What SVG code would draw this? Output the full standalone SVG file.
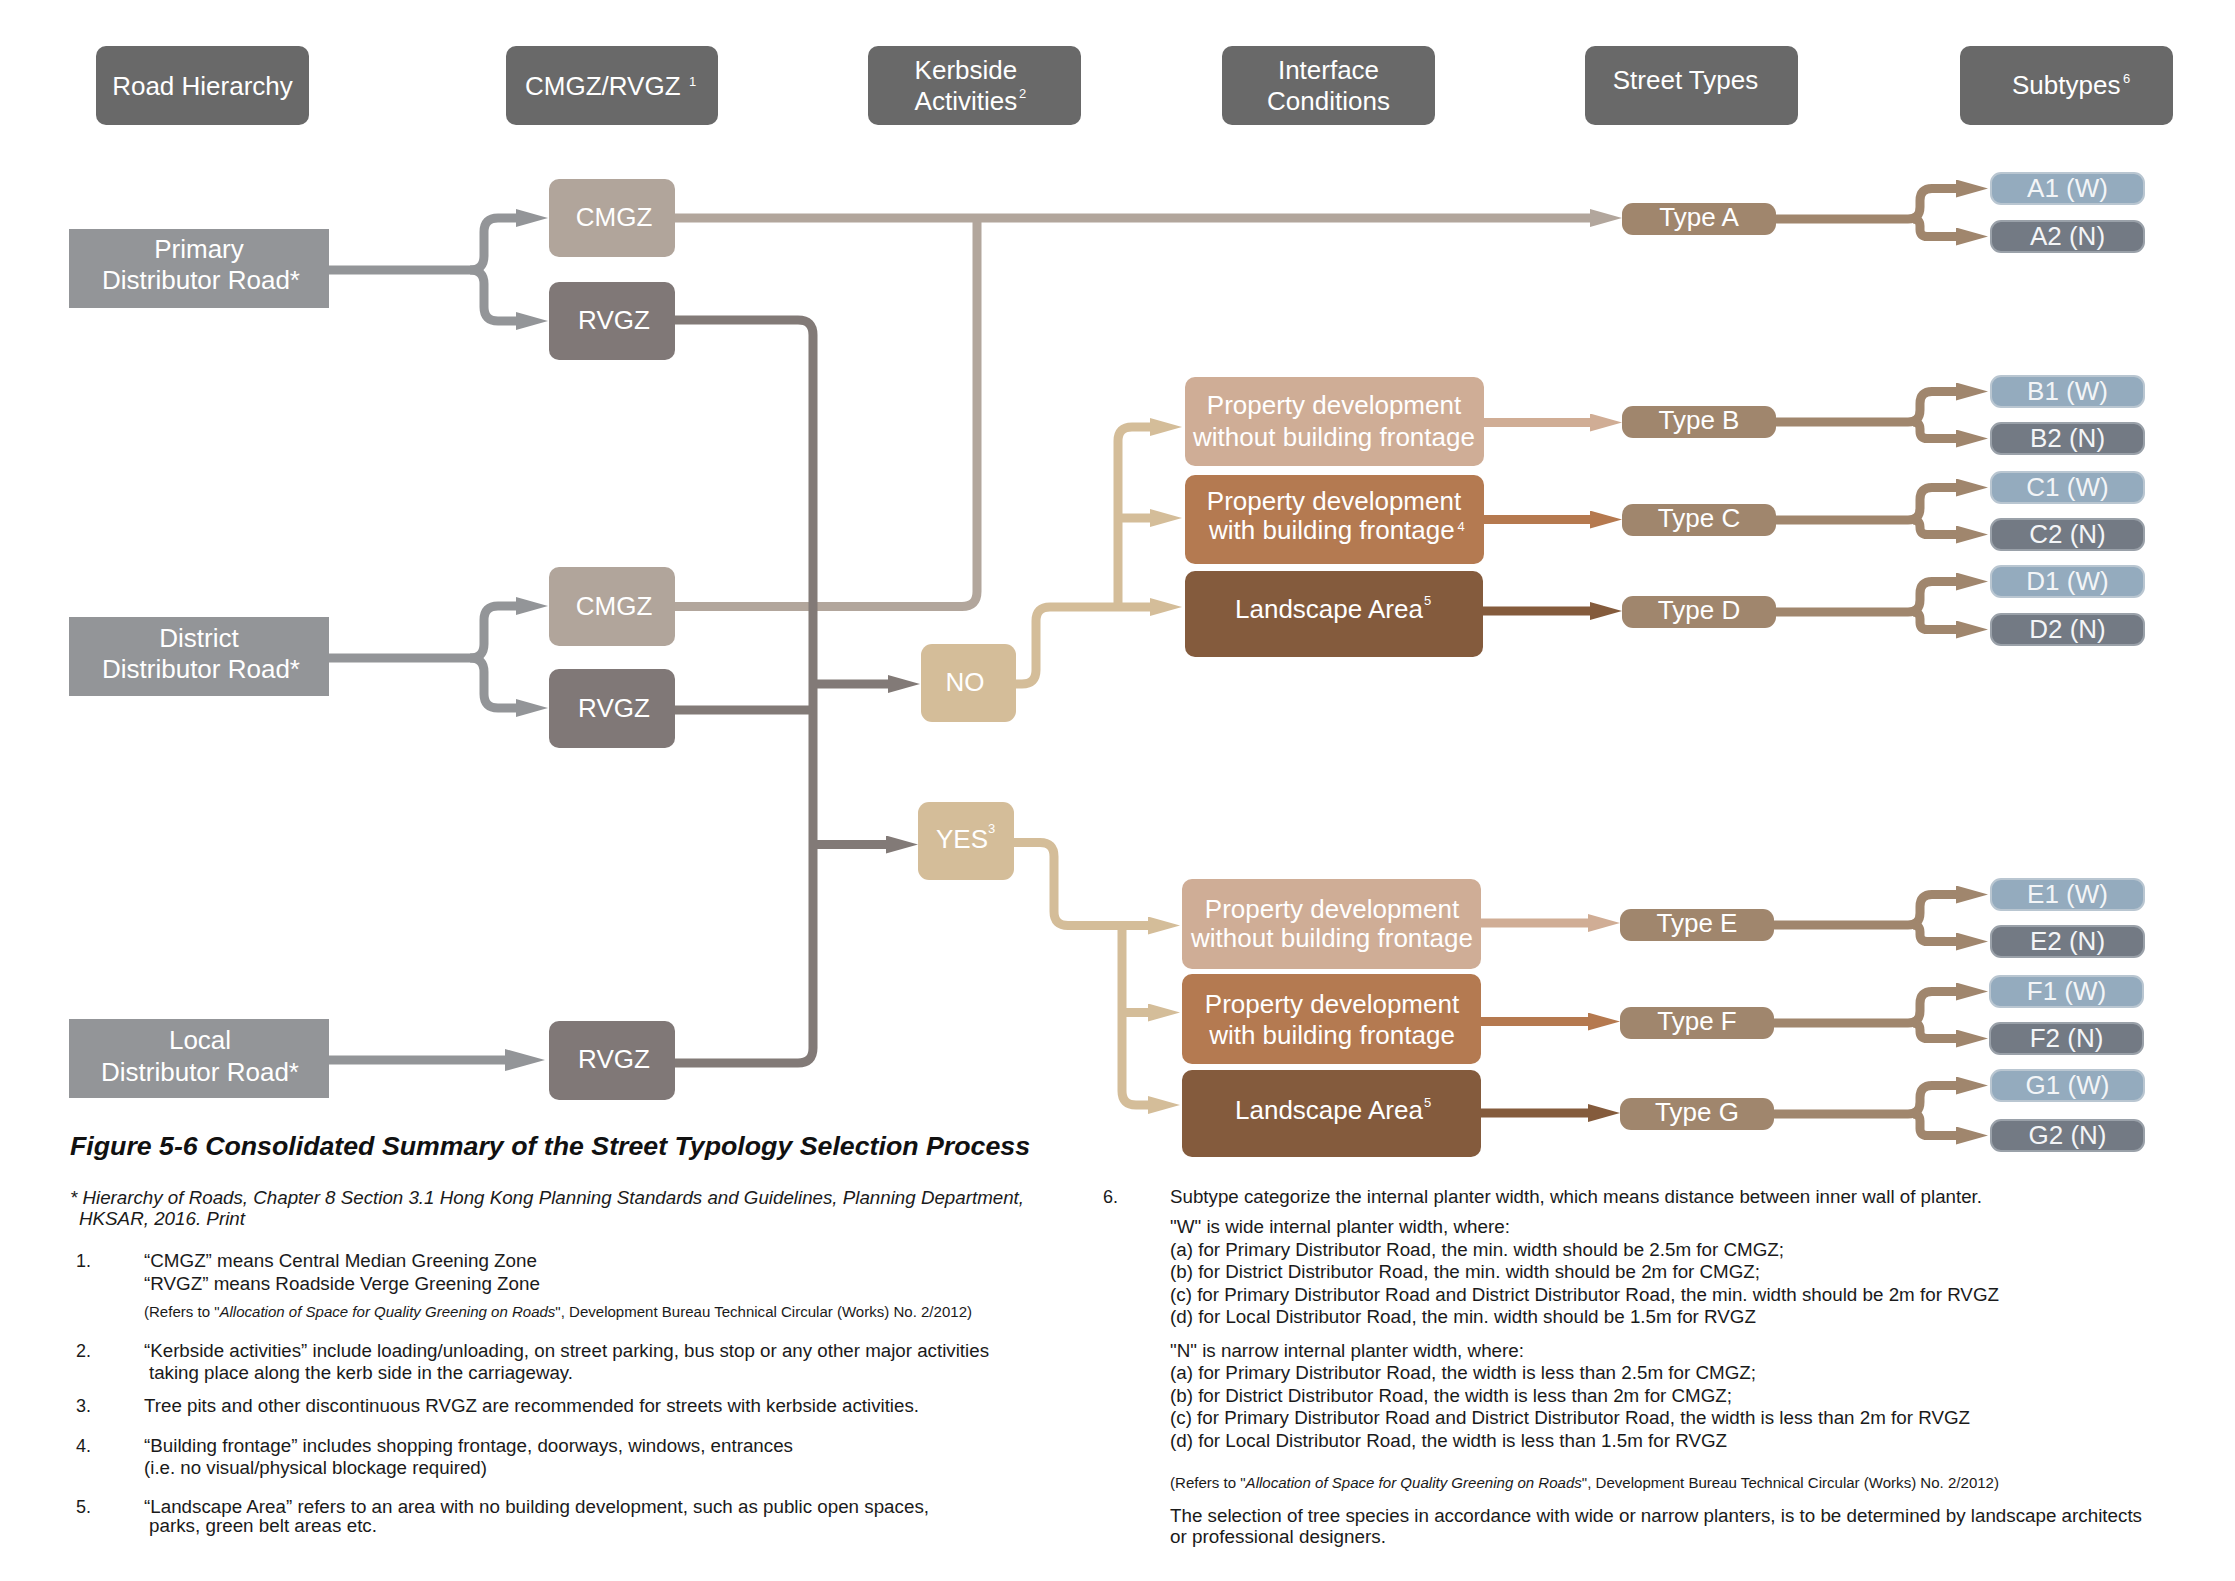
<svg xmlns="http://www.w3.org/2000/svg" width="2235" height="1581" viewBox="0 0 2235 1581">
<style>
text{font-family:"Liberation Sans",Arial,sans-serif}
.hd{fill:#696969}
.w{fill:#ffffff;font-size:26px}
.wc{fill:#ffffff;font-size:26px;text-anchor:middle}
.sup{font-size:13px;fill:#ffffff}
.road{fill:#939598}
.cm{fill:#b1a59b}
.rv{fill:#807877}
.yn{fill:#d4bd99}
.pa{fill:#cfad96}
.pb{fill:#b47a51}
.pc{fill:#845b3d}
.ty{fill:#a0866d}
.sw{fill:#94abbe;stroke:#b9c6d1;stroke-width:2}
.sn{fill:#737a84;stroke:#9aa1a9;stroke-width:2}
.st{fill:#f3f5f7;font-size:26px;text-anchor:middle}
.ln{fill:none;stroke-width:9;stroke-linejoin:round}
.lg{stroke:#939598}
.lc{stroke:#b2a69c}
.lr{stroke:#827a77}
.lt{stroke:#d4bd99}
.la{stroke:#d0ad95}
.lb{stroke:#b5794f}
.lp{stroke:#845b3c}
.ly{stroke:#a0866d}
.nt{font-size:18px;fill:#1a1a1a}
.ns{font-size:14px;fill:#1a1a1a}
.it{font-style:italic}
</style>
<defs>
<marker id="mG" viewBox="0 0 32 18" refX="1" refY="9" markerWidth="32" markerHeight="18" markerUnits="userSpaceOnUse" orient="auto"><path d="M0,0L32,9L0,18z" fill="#939598"/></marker>
<marker id="mGL" viewBox="0 0 40 22" refX="1" refY="11" markerWidth="40" markerHeight="22" markerUnits="userSpaceOnUse" orient="auto"><path d="M0,0L40,11L0,22z" fill="#939598"/></marker>
<marker id="mC" viewBox="0 0 32 18" refX="1" refY="9" markerWidth="32" markerHeight="18" markerUnits="userSpaceOnUse" orient="auto"><path d="M0,0L32,9L0,18z" fill="#b2a69c"/></marker>
<marker id="mR" viewBox="0 0 32 18" refX="1" refY="9" markerWidth="32" markerHeight="18" markerUnits="userSpaceOnUse" orient="auto"><path d="M0,0L32,9L0,18z" fill="#827a77"/></marker>
<marker id="mT" viewBox="0 0 32 18" refX="1" refY="9" markerWidth="32" markerHeight="18" markerUnits="userSpaceOnUse" orient="auto"><path d="M0,0L32,9L0,18z" fill="#d4bd99"/></marker>
<marker id="mA" viewBox="0 0 32 18" refX="1" refY="9" markerWidth="32" markerHeight="18" markerUnits="userSpaceOnUse" orient="auto"><path d="M0,0L32,9L0,18z" fill="#d0ad95"/></marker>
<marker id="mB" viewBox="0 0 32 18" refX="1" refY="9" markerWidth="32" markerHeight="18" markerUnits="userSpaceOnUse" orient="auto"><path d="M0,0L32,9L0,18z" fill="#b5794f"/></marker>
<marker id="mP" viewBox="0 0 32 18" refX="1" refY="9" markerWidth="32" markerHeight="18" markerUnits="userSpaceOnUse" orient="auto"><path d="M0,0L32,9L0,18z" fill="#845b3c"/></marker>
<marker id="mY" viewBox="0 0 32 18" refX="1" refY="9" markerWidth="32" markerHeight="18" markerUnits="userSpaceOnUse" orient="auto"><path d="M0,0L32,9L0,18z" fill="#a0866d"/></marker>
</defs>
<rect width="2235" height="1581" fill="#ffffff"/>

<g id="connectors">
<path class="ln lg" d="M329,270 H470 Q484,270 484,256 V232 Q484,218 498,218 H517" marker-end="url(#mG)"/>
<path class="ln lg" d="M470,270 Q484,270 484,284 V307 Q484,321 498,321 H517" marker-end="url(#mG)"/>
<path class="ln lg" d="M329,658 H470 Q484,658 484,644 V620 Q484,606 498,606 H517" marker-end="url(#mG)"/>
<path class="ln lg" d="M470,658 Q484,658 484,672 V694 Q484,708 498,708 H517" marker-end="url(#mG)"/>
<path class="ln lg" d="M329,1060 H506" marker-end="url(#mGL)"/>
<path class="ln lc" d="M675,218 H1591" marker-end="url(#mC)"/>
<path class="ln lc" d="M675,606.5 H962 Q977,606.5 977,591.5 V218"/>
<path class="ln lr" d="M675,320 H798 Q813,320 813,335 V1048 Q813,1063 798,1063 H675"/>
<path class="ln lr" d="M675,710 H813"/>
<path class="ln lr" d="M813,684 H889" marker-end="url(#mR)"/>
<path class="ln lr" d="M813,844.5 H887" marker-end="url(#mR)"/>
<path class="ln lt" d="M1016,684 H1022 Q1036,684 1036,670 V621 Q1036,607 1050,607 H1151" marker-end="url(#mT)"/>
<path class="ln lt" d="M1118,607 V441 Q1118,427 1132,427 H1151" marker-end="url(#mT)"/>
<path class="ln lt" d="M1118,518 H1151" marker-end="url(#mT)"/>
<path class="ln lt" d="M1014,842.5 H1040 Q1054,842.5 1054,856.5 V911.5 Q1054,925.5 1068,925.5 H1149" marker-end="url(#mT)"/>
<path class="ln lt" d="M1122,925.5 V1091 Q1122,1105 1136,1105 H1149" marker-end="url(#mT)"/>
<path class="ln lt" d="M1122,1012.5 H1149" marker-end="url(#mT)"/>
<path class="ln la" d="M1484,422.5 H1591" marker-end="url(#mA)"/>
<path class="ln lb" d="M1484,519.6 H1591" marker-end="url(#mB)"/>
<path class="ln lp" d="M1483,611 H1591" marker-end="url(#mP)"/>
<path class="ln la" d="M1481,923 H1589" marker-end="url(#mA)"/>
<path class="ln lb" d="M1481,1021.6 H1589" marker-end="url(#mB)"/>
<path class="ln lp" d="M1481,1113 H1589" marker-end="url(#mP)"/>
<path class="ln ly" d="M1776,219 H1908 Q1920,219 1920,207 V200.5 Q1920,188.5 1932,188.5 H1957" marker-end="url(#mY)"/>
<path class="ln ly" d="M1913,219 Q1920,219 1920,226 V229.5 Q1920,236.5 1927,236.5 H1957" marker-end="url(#mY)"/>
<path class="ln ly" d="M1776,422 H1908 Q1920,422 1920,410 V403.5 Q1920,391.5 1932,391.5 H1957" marker-end="url(#mY)"/>
<path class="ln ly" d="M1913,422 Q1920,422 1920,429 V431.5 Q1920,438.5 1927,438.5 H1957" marker-end="url(#mY)"/>
<path class="ln ly" d="M1776,520 H1908 Q1920,520 1920,508 V499.5 Q1920,487.5 1932,487.5 H1957" marker-end="url(#mY)"/>
<path class="ln ly" d="M1913,520 Q1920,520 1920,527 V527.5 Q1920,534.5 1927,534.5 H1957" marker-end="url(#mY)"/>
<path class="ln ly" d="M1776,612 H1908 Q1920,612 1920,600 V593.5 Q1920,581.5 1932,581.5 H1957" marker-end="url(#mY)"/>
<path class="ln ly" d="M1913,612 Q1920,612 1920,619 V622.5 Q1920,629.5 1927,629.5 H1957" marker-end="url(#mY)"/>
<path class="ln ly" d="M1774,925 H1908 Q1920,925 1920,913 V906.5 Q1920,894.5 1932,894.5 H1957" marker-end="url(#mY)"/>
<path class="ln ly" d="M1913,925 Q1920,925 1920,932 V934.5 Q1920,941.5 1927,941.5 H1957" marker-end="url(#mY)"/>
<path class="ln ly" d="M1774,1023 H1908 Q1920,1023 1920,1011 V1003.5 Q1920,991.5 1932,991.5 H1957" marker-end="url(#mY)"/>
<path class="ln ly" d="M1913,1023 Q1920,1023 1920,1030 V1031.5 Q1920,1038.5 1927,1038.5 H1957" marker-end="url(#mY)"/>
<path class="ln ly" d="M1774,1114 H1908 Q1920,1114 1920,1102 V1097.5 Q1920,1085.5 1932,1085.5 H1957" marker-end="url(#mY)"/>
<path class="ln ly" d="M1913,1114 Q1920,1114 1920,1121 V1128.5 Q1920,1135.5 1927,1135.5 H1957" marker-end="url(#mY)"/>
</g>

<g id="h-road"><rect class="hd" x="96" y="46" width="213" height="79" rx="10"/><text class="wc" x="202.5" y="95">Road Hierarchy</text></g>
<g id="h-zone"><rect class="hd" x="506" y="46" width="212" height="79" rx="10"/><text class="w" x="525" y="95">CMGZ/RVGZ</text><text class="sup" x="689" y="86" font-size="12">1</text></g>
<g id="h-kerb"><rect class="hd" x="868" y="46" width="213" height="79" rx="10"/><text class="w" x="914.6" y="79.3">Kerbside</text><text class="w" x="914.6" y="109.6">Activities</text><text class="sup" x="1019" y="98">2</text></g>
<g id="h-interface"><rect class="hd" x="1222" y="46" width="213" height="79" rx="10"/><text class="wc" x="1328.5" y="79.3">Interface</text><text class="wc" x="1328.5" y="110">Conditions</text></g>
<g id="h-street"><rect class="hd" x="1585" y="46" width="213" height="79" rx="10"/><text class="wc" x="1685.5" y="89">Street Types</text></g>
<g id="h-subtypes"><rect class="hd" x="1960" y="46" width="213" height="79" rx="10"/><text class="w" x="2012" y="93.6">Subtypes</text><text class="sup" x="2123" y="83">6</text></g>

<g id="n-primary"><rect class="road" x="69" y="229" width="260" height="79"/><text class="wc" x="199" y="258">Primary</text><text class="wc" x="201" y="289">Distributor Road*</text></g>
<g id="n-district"><rect class="road" x="69" y="617" width="260" height="79"/><text class="wc" x="199" y="646.8">District</text><text class="wc" x="201" y="678.4">Distributor Road*</text></g>
<g id="n-local"><rect class="road" x="69" y="1019" width="260" height="79"/><text class="wc" x="200" y="1049">Local</text><text class="wc" x="200" y="1081">Distributor Road*</text></g>

<g id="n-cmgz1"><rect class="cm" x="549" y="179" width="126" height="78" rx="10"/><text class="wc" x="614" y="226">CMGZ</text></g>
<g id="n-rvgz1"><rect class="rv" x="549" y="282" width="126" height="78" rx="10"/><text class="wc" x="614" y="329">RVGZ</text></g>
<g id="n-cmgz2"><rect class="cm" x="549" y="567" width="126" height="79" rx="10"/><text class="wc" x="614" y="615">CMGZ</text></g>
<g id="n-rvgz2"><rect class="rv" x="549" y="669" width="126" height="79" rx="10"/><text class="wc" x="614" y="717">RVGZ</text></g>
<g id="n-rvgz3"><rect class="rv" x="549" y="1021" width="126" height="79" rx="10"/><text class="wc" x="614" y="1068">RVGZ</text></g>

<g id="n-no"><rect class="yn" x="921" y="644" width="95" height="78" rx="11"/><text class="wc" x="965" y="691">NO</text></g>
<g id="n-yes"><rect class="yn" x="918" y="802" width="96" height="78" rx="11"/><text class="w" x="936" y="848">YES</text><text class="sup" x="988" y="833">3</text></g>

<g id="n-p1"><rect class="pa" x="1185" y="377" width="299" height="89" rx="10"/><text class="wc" x="1334" y="414">Property development</text><text class="wc" x="1334" y="446">without building frontage</text></g>
<g id="n-p2"><rect class="pb" x="1185" y="475" width="299" height="89" rx="10"/><text class="wc" x="1334" y="510">Property development</text><text class="w" x="1209" y="539">with building frontage</text><text class="sup" x="1457.5" y="531">4</text></g>
<g id="n-l1"><rect class="pc" x="1185" y="571" width="298" height="86" rx="10"/><text class="w" x="1235" y="618">Landscape Area</text><text class="sup" x="1424" y="605">5</text></g>
<g id="n-p3"><rect class="pa" x="1182" y="879" width="299" height="90" rx="10"/><text class="wc" x="1332" y="917.6">Property development</text><text class="wc" x="1332" y="947.3">without building frontage</text></g>
<g id="n-p4"><rect class="pb" x="1182" y="974" width="299" height="90" rx="10"/><text class="wc" x="1332" y="1012.5">Property development</text><text class="wc" x="1332" y="1044">with building frontage</text></g>
<g id="n-l2"><rect class="pc" x="1182" y="1070" width="299" height="87" rx="10"/><text class="w" x="1235" y="1119">Landscape Area</text><text class="sup" x="1424" y="1107">5</text></g>

<g id="t-a"><rect class="ty" x="1622" y="203" width="154" height="32" rx="11"/><text class="wc" x="1699" y="226">Type A</text></g>
<g id="t-b"><rect class="ty" x="1622" y="406" width="154" height="32" rx="11"/><text class="wc" x="1699" y="429">Type B</text></g>
<g id="t-c"><rect class="ty" x="1622" y="504" width="154" height="32" rx="11"/><text class="wc" x="1699" y="527">Type C</text></g>
<g id="t-d"><rect class="ty" x="1622" y="596" width="154" height="32" rx="11"/><text class="wc" x="1699" y="619">Type D</text></g>
<g id="t-e"><rect class="ty" x="1620" y="909" width="154" height="32" rx="11"/><text class="wc" x="1697" y="932">Type E</text></g>
<g id="t-f"><rect class="ty" x="1620" y="1007" width="154" height="32" rx="11"/><text class="wc" x="1697" y="1030">Type F</text></g>
<g id="t-g"><rect class="ty" x="1620" y="1098" width="154" height="32" rx="11"/><text class="wc" x="1697" y="1121">Type G</text></g>

<g id="s-a1"><rect class="sw" x="1991" y="173" width="153" height="31" rx="10"/><text class="st" x="2067.5" y="197">A1 (W)</text></g>
<g id="s-a2"><rect class="sn" x="1991" y="221" width="153" height="31" rx="10"/><text class="st" x="2067.5" y="245">A2 (N)</text></g>
<g id="s-b1"><rect class="sw" x="1991" y="376" width="153" height="31" rx="10"/><text class="st" x="2067.5" y="400">B1 (W)</text></g>
<g id="s-b2"><rect class="sn" x="1991" y="423" width="153" height="31" rx="10"/><text class="st" x="2067.5" y="447">B2 (N)</text></g>
<g id="s-c1"><rect class="sw" x="1991" y="472" width="153" height="31" rx="10"/><text class="st" x="2067.5" y="496">C1 (W)</text></g>
<g id="s-c2"><rect class="sn" x="1991" y="519" width="153" height="31" rx="10"/><text class="st" x="2067.5" y="543">C2 (N)</text></g>
<g id="s-d1"><rect class="sw" x="1991" y="566" width="153" height="31" rx="10"/><text class="st" x="2067.5" y="590">D1 (W)</text></g>
<g id="s-d2"><rect class="sn" x="1991" y="614" width="153" height="31" rx="10"/><text class="st" x="2067.5" y="638">D2 (N)</text></g>
<g id="s-e1"><rect class="sw" x="1991" y="879" width="153" height="31" rx="10"/><text class="st" x="2067.5" y="903">E1 (W)</text></g>
<g id="s-e2"><rect class="sn" x="1991" y="926" width="153" height="31" rx="10"/><text class="st" x="2067.5" y="950">E2 (N)</text></g>
<g id="s-f1"><rect class="sw" x="1990" y="976" width="153" height="31" rx="10"/><text class="st" x="2066.5" y="1000">F1 (W)</text></g>
<g id="s-f2"><rect class="sn" x="1990" y="1023" width="153" height="31" rx="10"/><text class="st" x="2066.5" y="1047">F2 (N)</text></g>
<g id="s-g1"><rect class="sw" x="1991" y="1070" width="153" height="31" rx="10"/><text class="st" x="2067.5" y="1094">G1 (W)</text></g>
<g id="s-g2"><rect class="sn" x="1991" y="1120" width="153" height="31" rx="10"/><text class="st" x="2067.5" y="1144">G2 (N)</text></g>

<g id="caption">
<text x="70" y="1155" font-size="25" font-weight="bold" font-style="italic" fill="#111111" textLength="960" lengthAdjust="spacingAndGlyphs">Figure 5-6 Consolidated Summary of the Street Typology Selection Process</text>
</g>

<g id="notes-left">
<text class="nt it" x="70" y="1204" textLength="954" lengthAdjust="spacingAndGlyphs">* Hierarchy of Roads, Chapter 8 Section 3.1 Hong Kong Planning Standards and Guidelines, Planning Department,</text>
<text class="nt it" x="79" y="1225" textLength="166" lengthAdjust="spacingAndGlyphs">HKSAR, 2016. Print</text>
<text class="nt" x="76" y="1267">1.</text>
<text class="nt" x="144" y="1267" textLength="393" lengthAdjust="spacingAndGlyphs">“CMGZ” means Central Median Greening Zone</text>
<text class="nt" x="144" y="1290" textLength="396" lengthAdjust="spacingAndGlyphs">“RVGZ” means Roadside Verge Greening Zone</text>
<text class="ns" x="144" y="1316.7" textLength="828" lengthAdjust="spacingAndGlyphs">(Refers to "<tspan class="it">Allocation of Space for Quality Greening on Roads</tspan>", Development Bureau Technical Circular (Works) No. 2/2012)</text>
<text class="nt" x="76" y="1356.7">2.</text>
<text class="nt" x="144" y="1356.7" textLength="845" lengthAdjust="spacingAndGlyphs">“Kerbside activities” include loading/unloading, on street parking, bus stop or any other major activities</text>
<text class="nt" x="149" y="1379.3" textLength="424" lengthAdjust="spacingAndGlyphs">taking place along the kerb side in the carriageway.</text>
<text class="nt" x="76" y="1411.7">3.</text>
<text class="nt" x="144" y="1411.7" textLength="775" lengthAdjust="spacingAndGlyphs">Tree pits and other discontinuous RVGZ are recommended for streets with kerbside activities.</text>
<text class="nt" x="76" y="1451.7">4.</text>
<text class="nt" x="144" y="1451.7" textLength="649" lengthAdjust="spacingAndGlyphs">“Building frontage” includes shopping frontage, doorways, windows, entrances</text>
<text class="nt" x="144" y="1474.3" textLength="343" lengthAdjust="spacingAndGlyphs">(i.e. no visual/physical blockage required)</text>
<text class="nt" x="76" y="1513.3">5.</text>
<text class="nt" x="144" y="1513.3" textLength="785" lengthAdjust="spacingAndGlyphs">“Landscape Area” refers to an area with no building development, such as public open spaces,</text>
<text class="nt" x="149" y="1531.7" textLength="228" lengthAdjust="spacingAndGlyphs">parks, green belt areas etc.</text>
</g>

<g id="notes-right">
<text class="nt" x="1103" y="1203.3">6.</text>
<text class="nt" x="1170" y="1203.3" textLength="812" lengthAdjust="spacingAndGlyphs">Subtype categorize the internal planter width, which means distance between inner wall of planter.</text>
<text class="nt" x="1170" y="1233.3" textLength="340" lengthAdjust="spacingAndGlyphs">"W" is wide internal planter width, where:</text>
<text class="nt" x="1170" y="1256" textLength="614" lengthAdjust="spacingAndGlyphs">(a) for Primary Distributor Road, the min. width should be 2.5m for CMGZ;</text>
<text class="nt" x="1170" y="1278.3" textLength="590" lengthAdjust="spacingAndGlyphs">(b) for District Distributor Road, the min. width should be 2m for CMGZ;</text>
<text class="nt" x="1170" y="1300.7" textLength="829" lengthAdjust="spacingAndGlyphs">(c) for Primary Distributor Road and District Distributor Road, the min. width should be 2m for RVGZ</text>
<text class="nt" x="1170" y="1323.3" textLength="586" lengthAdjust="spacingAndGlyphs">(d) for Local Distributor Road, the min. width should be 1.5m for RVGZ</text>
<text class="nt" x="1170" y="1356.7" textLength="354" lengthAdjust="spacingAndGlyphs">"N" is narrow internal planter width, where:</text>
<text class="nt" x="1170" y="1379.3" textLength="586" lengthAdjust="spacingAndGlyphs">(a) for Primary Distributor Road, the width is less than 2.5m for CMGZ;</text>
<text class="nt" x="1170" y="1401.7" textLength="562" lengthAdjust="spacingAndGlyphs">(b) for District Distributor Road, the width is less than 2m for CMGZ;</text>
<text class="nt" x="1170" y="1424" textLength="800" lengthAdjust="spacingAndGlyphs">(c) for Primary Distributor Road and District Distributor Road, the width is less than 2m for RVGZ</text>
<text class="nt" x="1170" y="1446.7" textLength="557" lengthAdjust="spacingAndGlyphs">(d) for Local Distributor Road, the width is less than 1.5m for RVGZ</text>
<text class="ns" x="1170" y="1488.3" textLength="829" lengthAdjust="spacingAndGlyphs">(Refers to "<tspan class="it">Allocation of Space for Quality Greening on Roads</tspan>", Development Bureau Technical Circular (Works) No. 2/2012)</text>
<text class="nt" x="1170" y="1521.7" textLength="972" lengthAdjust="spacingAndGlyphs">The selection of tree species in accordance with wide or narrow planters, is to be determined by landscape architects</text>
<text class="nt" x="1170" y="1543.3" textLength="216" lengthAdjust="spacingAndGlyphs">or professional designers.</text>
</g>
</svg>
